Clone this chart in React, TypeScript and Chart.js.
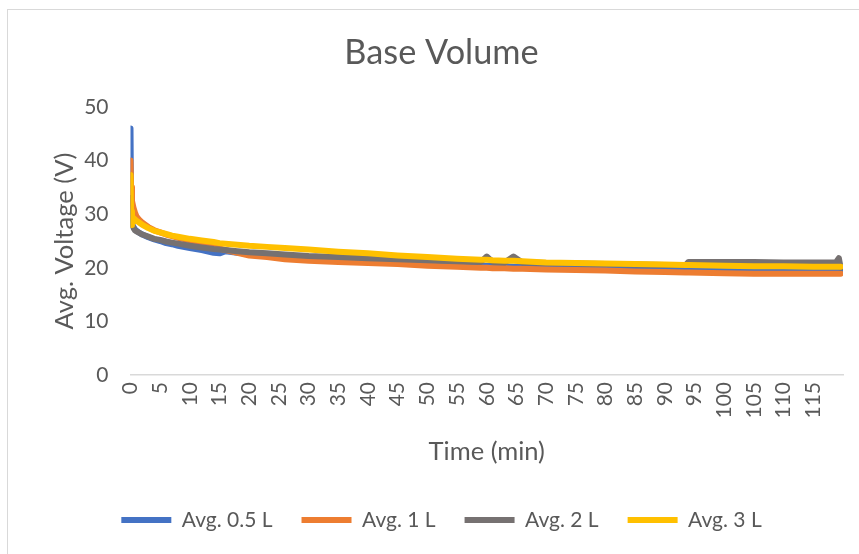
import { useEffect, useRef } from 'react';
import { Chart, registerables } from 'chart.js';

Chart.register(...registerables);

// Time in minutes (shared by all series)
const timeMin = [0, 0.1, 0.25, 0.5, 0.75, 1, 1.5, 2, 3, 4, 5, 6, 7, 8, 10, 12, 14, 15, 16, 18, 20, 23, 26, 30, 35, 40, 45, 50, 55, 59, 60, 61, 63, 64.5, 66, 70, 75, 80, 85, 90, 93.5, 94, 100, 105, 110, 115, 118.8, 119.3, 119.6];

const avg05L = [46, 31, 28.2, 27.6, 27.2, 26.9, 26.5, 26.2, 25.7, 25.3, 25.0, 24.6, 24.4, 24.1, 23.7, 23.3, 22.8, 22.7, 23.1, 22.8, 22.6, 22.3, 22.0, 21.7, 21.4, 21.2, 20.9, 20.7, 20.5, 20.4, 20.4, 20.3, 20.3, 20.2, 20.2, 20.1, 20.0, 19.9, 19.85, 19.8, 19.75, 19.75, 19.75, 19.4, 19.4, 19.4, 19.4, 19.4, 19.4];
const avg1L = [40, 35, 32.5, 31.2, 30.3, 29.6, 28.9, 28.4, 27.6, 27.0, 26.6, 26.2, 25.9, 25.6, 25.1, 24.5, 24.0, 23.6, 23.3, 22.8, 22.3, 22.0, 21.6, 21.3, 21.1, 20.9, 20.7, 20.4, 20.2, 20.0, 20.0, 19.9, 19.9, 19.8, 19.8, 19.7, 19.6, 19.5, 19.3, 19.2, 19.1, 19.1, 19.0, 18.9, 18.9, 18.9, 18.9, 18.9, 18.9];
const avg2L = [33, 29, 28.0, 27.4, 27.0, 26.8, 26.5, 26.2, 25.8, 25.4, 25.2, 24.9, 24.7, 24.5, 24.1, 23.8, 23.5, 23.4, 23.3, 23.1, 22.9, 22.7, 22.5, 22.2, 22.0, 21.8, 21.6, 21.4, 21.2, 21.1, 22.1, 21.1, 21.0, 22.1, 21.0, 20.9, 20.8, 20.7, 20.6, 20.5, 20.5, 21.1, 21.1, 21.1, 21.0, 21.0, 21.0, 21.8, 20.0];
const avg3L = [37.3, 30.5, 28.0, 29.3, 29.0, 28.8, 28.4, 28.0, 27.4, 26.9, 26.6, 26.3, 26.0, 25.8, 25.4, 25.1, 24.8, 24.6, 24.5, 24.3, 24.1, 23.9, 23.7, 23.4, 23.0, 22.7, 22.3, 22.0, 21.7, 21.5, 21.5, 21.4, 21.3, 21.3, 21.2, 21.0, 20.9, 20.8, 20.7, 20.6, 20.5, 20.5, 20.4, 20.3, 20.3, 20.2, 20.2, 20.2, 20.2];

const seriesValues = [avg05L, avg1L, avg2L, avg3L];
const seriesLabels = ['Avg. 0.5 L', 'Avg. 1 L', 'Avg. 2 L', 'Avg. 3 L'];
const seriesColors = ['#4472C4', '#ED7D31', '#767171', '#FFC000'];

const yMin = 0;
const yMax = 50;
const yStep = 10;
const xMin = 0;
const xMax = 120;
const xStep = 5;
const xLastLabel = 115;

const TEXT = '#595959';
const FONT = 'Lato, "Open Sans", sans-serif';

export default function App() {
  const ref = useRef<HTMLCanvasElement>(null);

  useEffect(() => {
    if (!ref.current) return;
    const chart = new Chart(ref.current, {
      type: 'line',
      data: {
        datasets: seriesValues.map((vals, i) => ({
          label: seriesLabels[i],
          data: timeMin.map((t, j) => ({ x: t, y: vals[j] })),
          borderColor: seriesColors[i],
          backgroundColor: seriesColors[i],
          borderWidth: 6,
          pointRadius: 0,
          pointHoverRadius: 0,
          pointStyle: 'line',
          borderCapStyle: 'round',
          borderJoinStyle: 'round',
          tension: 0,
          fill: false,
          order: seriesValues.length - 1 - i,
        })),
      },
      options: {
        responsive: false,
        animation: false,
        devicePixelRatio: 1,
        layout: { padding: { left: 40, right: 16, top: 0, bottom: 13.5 } },
        plugins: {
          title: {
            display: true,
            text: 'Base Volume',
            color: TEXT,
            font: { family: FONT, size: 34.3, weight: 'normal' },
            padding: { top: 32.4, bottom: 33.4 },
          },
          legend: {
            position: 'bottom',
            labels: {
              usePointStyle: true,
              pointStyle: 'line',
              pointStyleWidth: 50,
              font: { family: FONT, size: 21 },
              color: TEXT,
              padding: 29,
              sort: (a: any, b: any) => a.datasetIndex - b.datasetIndex,
            },
          },
          tooltip: { enabled: false },
        },
        scales: {
          x: {
            type: 'linear',
            min: xMin,
            max: xMax,
            grid: { display: false, drawTicks: false },
            border: { display: true, color: '#d9d9d9', width: 1.5 },
            ticks: {
              stepSize: xStep,
              minRotation: 90,
              maxRotation: 90,
              padding: 7,
              autoSkip: false,
              color: TEXT,
              font: { family: FONT, size: 21 },
            },
            afterBuildTicks: (s: any) => {
              s.ticks = s.ticks.filter((t: any) => t.value <= xLastLabel);
            },
            afterFit: (s: any) => {
              s.height = 105.5;
            },
            title: {
              display: true,
              text: 'Time (min)',
              color: TEXT,
              font: { family: FONT, size: 25.5 },
              padding: { top: 0, bottom: 13.2 },
            },
          },
          y: {
            min: yMin,
            max: yMax,
            grid: { display: false, drawTicks: false },
            border: { display: false },
            ticks: {
              stepSize: yStep,
              padding: 22,
              color: TEXT,
              font: { family: FONT, size: 21 },
            },
            afterFit: (s: any) => {
              s.width = 90.5;
            },
            title: {
              display: true,
              text: 'Avg. Voltage (V)',
              color: TEXT,
              font: { family: FONT, size: 25.5 },
              padding: { top: 9.7, bottom: 0 },
            },
          },
        },
      } as any,
    });
    return () => chart.destroy();
  }, []);

  return (
    <div style={{ position: 'fixed', left: 0, top: 0, width: 859, height: 554, overflow: 'hidden', background: '#fff' }}>
      <div style={{ position: 'absolute', left: 7, top: 9, width: 900, height: 600, border: '1px solid #d9d9d9', boxSizing: 'border-box' }} />
      <canvas ref={ref} width={859} height={554} style={{ position: 'absolute', left: 0, top: 0, width: 859, height: 554 }} />
    </div>
  );
}
